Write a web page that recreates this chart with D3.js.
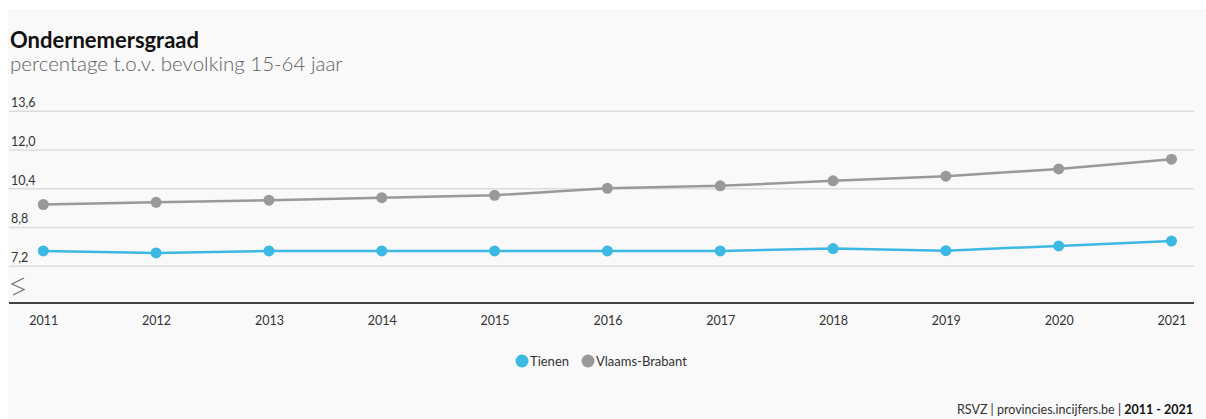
<!DOCTYPE html>
<html>
<head>
<meta charset="utf-8">
<script src="https://cdn.jsdelivr.net/npm/d3@7"></script>
<style>
  html, body { margin: 0; padding: 0; background: #ffffff; }
  svg { display: block; }
  text { font-family: Lato, "Open Sans", sans-serif; }
</style>
</head>
<body>
<svg id="chart" width="1206" height="419"></svg>
<script>
const years = ["2011","2012","2013","2014","2015","2016","2017","2018","2019","2020","2021"];
const tienen = [7.83, 7.75, 7.83, 7.83, 7.83, 7.83, 7.83, 7.93, 7.84, 8.04, 8.24];
const vlaamsBrabant = [9.75, 9.84, 9.93, 10.03, 10.13, 10.42, 10.52, 10.73, 10.92, 11.22, 11.62];
const yTicks = [7.2, 8.8, 10.4, 12.0, 13.6];
const seriesNames = ["Tienen", "Vlaams-Brabant"];
const seriesColors = ["#3cb9e2", "#999999"];
const title = "Ondernemersgraad";
const subtitle = "percentage t.o.v. bevolking 15-64 jaar";

const svg = d3.select("#chart");
svg.append("rect").attr("x", 8).attr("y", 9).attr("width", 1198).attr("height", 410).attr("fill", "#f9f9f9");

svg.append("text").attr("x", 10).attr("y", 47.5).attr("font-size", 22).attr("font-weight", 700)
  .attr("fill", "#111").text(title);
svg.append("text").attr("x", 10).attr("y", 71).attr("font-size", 20.5).attr("font-weight", 300)
  .attr("fill", "#5f5f5f").text(subtitle);

const x = d3.scalePoint().domain(years).range([43.3, 1171.5]);
const y = d3.scaleLinear().domain([5.68, 13.6]).range([303, 111.3]);
const left = 9, right = 1194;

// gridlines + labels
const g = svg.append("g");
yTicks.forEach(t => {
  g.append("line").attr("x1", left).attr("x2", right).attr("y1", y(t)).attr("y2", y(t))
    .attr("stroke", "#dcdcdc").attr("stroke-width", 1.5);
  g.append("text").attr("x", 11).attr("y", y(t) - 4).attr("font-size", 12.5).attr("fill", "#333")
    .text(d3.format(".1f")(t).replace(".", ","));
});

// axis break symbol
svg.append("path").attr("d", "M24,278 L12,284 L24,289.5 L13,295").attr("fill", "none")
  .attr("stroke", "#777").attr("stroke-width", 1.3);

// x axis
const xAxis = d3.axisBottom(x).tickSize(0).tickPadding(13);
const ax = svg.append("g").attr("transform", `translate(0,${y(5.68)})`).call(xAxis);
ax.select(".domain").remove();
ax.selectAll("text").attr("font-size", 12.5).attr("fill", "#333").attr("font-family", "Lato, sans-serif");
svg.append("line").attr("x1", left).attr("x2", right).attr("y1", y(5.68)).attr("y2", y(5.68))
  .attr("stroke", "#444").attr("stroke-width", 2);

// lines
const data = [tienen, vlaamsBrabant];
const line = d3.line().x((d, i) => x(years[i])).y(d => y(d));
[1, 0].forEach(si => {
  const s = svg.append("g");
  s.append("path").datum(data[si]).attr("d", line).attr("fill", "none")
    .attr("stroke", seriesColors[si]).attr("stroke-width", 2.5);
  s.selectAll("circle").data(data[si]).join("circle")
    .attr("cx", (d, i) => x(years[i])).attr("cy", d => y(d)).attr("r", 5.5)
    .attr("fill", seriesColors[si]);
});

// legend
const legend = svg.append("g");
const lx = [522, 588];
seriesNames.forEach((n, i) => {
  legend.append("circle").attr("cx", lx[i]).attr("cy", 361).attr("r", 6.5).attr("fill", seriesColors[i]);
  legend.append("text").attr("x", lx[i] + 8).attr("y", 366).attr("font-size", 13).attr("fill", "#333").text(n);
});

// footer
const f = svg.append("text").attr("x", 1193).attr("y", 414).attr("text-anchor", "end")
  .attr("font-size", 12.5).attr("fill", "#333");
f.append("tspan").text("RSVZ | provincies.incijfers.be | ");
f.append("tspan").attr("font-weight", 700).attr("fill", "#111").text("2011 - 2021");
</script>
</body>
</html>
